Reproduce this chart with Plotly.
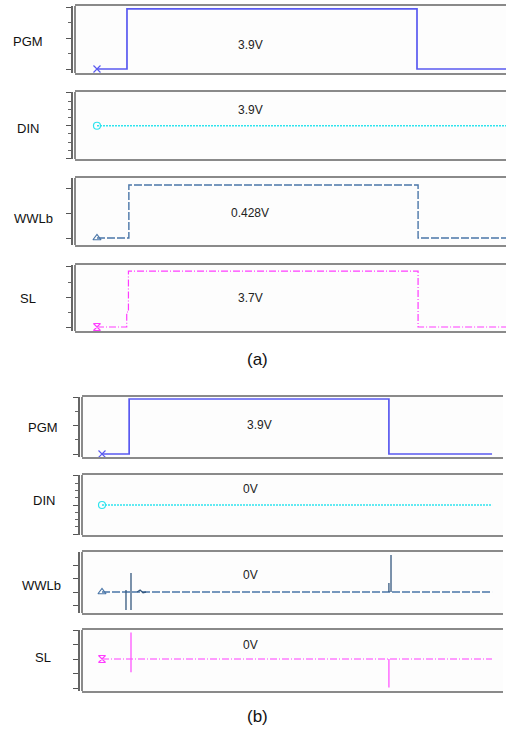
import plotly.graph_objects as go

# ---------------- data ----------------
# (a) program operation, time in arbitrary units (0-100)
t_a_pgm = [5.1, 12.06, 12.06, 79.35, 79.35, 100]
v_a_pgm = [0, 0, 3.9, 3.9, 0, 0]
t_a_din = [5.1, 100]
v_a_din = [3.9, 3.9]
t_a_wwl = [5.1, 12.5, 12.5, 79.6, 79.6, 100]
v_a_wwl = [0, 0, 2.12, 2.12, 0, 0]
t_a_sl = [5.1, 12.0, 12.0, 12.4, 12.4, 79.6, 79.6, 100]
v_a_sl = [0, 0, 1.0, 1.0, 3.73, 3.73, 0, 0]

# (b) inhibit operation
t_b_pgm = [4.75, 11.2, 11.2, 72.9, 72.9, 97.4]
v_b_pgm = [0, 0, 3.9, 3.9, 0, 0]
t_b_din = [4.75, 97.4]
v_b_din = [0, 0]
t_b_wwl = [4.75, 97.4]
v_b_wwl = [0, 0]
t_b_wwl_glitch = [10.45, 10.45, None, 11.64, 11.64, None, 13.1, 13.8, 14.5, 15.2, None,
                  72.9, 72.9, None, 73.4, 73.4]
v_b_wwl_glitch = [0.15, -1.33, None, 1.41, -1.33, None, 0, 0.15, -0.05, 0, None,
                  0, 0.67, None, 0, 2.74]
t_b_sl = [4.75, 97.4]
v_b_sl = [0, 0]
t_b_sl_glitch = [11.64, 11.64, None, 72.9, 72.9]
v_b_sl_glitch = [1.83, -0.92, None, 0, -1.97]

signal_names = ["PGM", "DIN", "WWLb", "SL"]
values_a = ["3.9V", "3.9V", "0.428V", "3.7V"]
values_b = ["3.9V", "0V", "0V", "0V"]
group_labels = ["(a)", "(b)"]

# ---------------- layout helpers ----------------
W, H = 506, 729


def px(x):
    return x / W


def py(y):
    return 1 - y / H


styles = {
    "PGM": dict(color="#5a5af0", dash="solid", symbol="x-thin-open", width=1.7),
    "DIN": dict(color="#2fe4ee", dash="2px,1px", symbol="circle-open", width=1.5),
    "WWLb": dict(color="#4a76a8", dash="8px,2px", symbol="triangle-up-open", width=1.4),
    "SL": dict(color="#ff3cff", dash="7px,2px,1px,2px", symbol="hourglass-open", width=1.2),
}

panels = [
    # group a
    dict(t=t_a_pgm, v=v_a_pgm, name="PGM", box=(75, 506, 6, 73), spine=72,
         yr=[-0.26, 4.09], tick0=0, dtick=2, minor=1, lab=(28, 42), val=values_a[0], vpos=(250, 45)),
    dict(t=t_a_din, v=v_a_din, name="DIN", box=(75, 506, 92, 159), spine=72,
         yr=[3.697, 4.106], tick0=3.7, dtick=0.2, minor=0.05, lab=(28, 128), val=values_a[1], vpos=(250, 110)),
    dict(t=t_a_wwl, v=v_a_wwl, name="WWLb", box=(75, 506, 178, 245), spine=72,
         yr=[-0.28, 2.4], tick0=0, dtick=1, minor=None, lab=(33, 218), val=values_a[2], vpos=(250, 213)),
    dict(t=t_a_sl, v=v_a_sl, name="SL", box=(75, 506, 265, 331), spine=72,
         yr=[-0.267, 4.133], tick0=0, dtick=2, minor=1, lab=(28, 298), val=values_a[3], vpos=(250, 298)),
    # group b
    dict(t=t_b_pgm, v=v_b_pgm, name="PGM", box=(82, 503, 397, 457), spine=79,
         yr=[-0.213, 4.04], tick0=0, dtick=2, minor=1, lab=(43, 427), val=values_b[0], vpos=(259, 425)),
    dict(t=t_b_din, v=v_b_din, name="DIN", box=(82, 503, 475, 535), spine=79,
         yr=[-0.205, 0.205], tick0=-0.2, dtick=0.2, minor=0.05, lab=(44, 500), val=values_b[1], vpos=(250, 489)),
    dict(t=t_b_wwl, v=v_b_wwl, name="WWLb", box=(82, 503, 552, 613), spine=79,
         yr=[-1.556, 2.963], tick0=0, dtick=1, minor=None, lab=(41, 585), val=values_b[2], vpos=(250, 575),
         glitch=(t_b_wwl_glitch, v_b_wwl_glitch, "#35587f")),
    dict(t=t_b_sl, v=v_b_sl, name="SL", box=(82, 503, 630, 691), spine=79,
         yr=[-2.207, 2.0], tick0=0, dtick=1, minor=None, lab=(43, 657), val=values_b[3], vpos=(250, 645),
         glitch=(t_b_sl_glitch, v_b_sl_glitch, "#ff55ff")),
]

fig = go.Figure()
shapes = []
annotations = []
FONT = "Liberation Sans, Arial, sans-serif"

for i, p in enumerate(panels, start=1):
    xa = "x" if i == 1 else f"x{i}"
    ya = "y" if i == 1 else f"y{i}"
    st = styles[p["name"]]
    fig.add_trace(go.Scatter(x=p["t"], y=p["v"], xaxis=xa, yaxis=ya, mode="lines",
                             line=dict(color=st["color"], width=st["width"], dash=st["dash"]),
                             hoverinfo="skip", showlegend=False))
    if "glitch" in p:
        gx, gy, gc = p["glitch"]
        fig.add_trace(go.Scatter(x=gx, y=gy, xaxis=xa, yaxis=ya, mode="lines",
                                 line=dict(color=gc, width=1.3), connectgaps=False,
                                 hoverinfo="skip", showlegend=False))
    fig.add_trace(go.Scatter(x=[p["t"][0]], y=[p["v"][0]], xaxis=xa, yaxis=ya, mode="markers",
                             marker=dict(symbol=st["symbol"], size=7, color=st["color"],
                                         line=dict(color=st["color"], width=1.2)),
                             hoverinfo="skip", showlegend=False))
    left, right, top, bottom = p["box"]
    xkey = "xaxis" if i == 1 else f"xaxis{i}"
    ykey = "yaxis" if i == 1 else f"yaxis{i}"
    fig.update_layout(**{
        xkey: dict(domain=[px(left), px(right)], range=[0, 100], anchor=ya,
                   showgrid=False, zeroline=False, showticklabels=False, ticks="",
                   showline=True, mirror=True, linecolor="#8a8a8a", linewidth=2),
        ykey: dict(domain=[py(bottom), py(top)], range=p["yr"], anchor="free",
                   position=px(p["spine"]), showgrid=False, zeroline=False,
                   showticklabels=False, ticks="outside", ticklen=5, tickwidth=1,
                   tickcolor="#555", tick0=p["tick0"], dtick=p["dtick"],
                   showline=True, linecolor="#666", linewidth=1.5,
                   minor=(dict(dtick=p["minor"], ticks="outside", ticklen=3, tickcolor="#666",
                               tickwidth=1, showgrid=False) if p["minor"] else dict(ticks=""))),
    })
    shapes.append(dict(type="line", xref="paper", yref="paper", x0=px(left), x1=px(left),
                       y0=py(top), y1=py(bottom), line=dict(color="#8a8a8a", width=2)))
    annotations.append(dict(x=px(p["lab"][0]), y=py(p["lab"][1]), xref="paper", yref="paper",
                            text=p["name"], showarrow=False, xanchor="center", yanchor="middle",
                            font=dict(family=FONT, size=13, color="#111")))
    annotations.append(dict(x=px(p["vpos"][0]), y=py(p["vpos"][1]), xref="paper", yref="paper",
                            text=p["val"], showarrow=False, xanchor="center", yanchor="middle",
                            font=dict(family=FONT, size=12, color="#222")))

for lab, (gx, gy) in zip(group_labels, [(257, 359), (257, 716)]):
    annotations.append(dict(x=px(gx), y=py(gy), xref="paper", yref="paper", text=lab,
                            showarrow=False, xanchor="center", yanchor="middle",
                            font=dict(family=FONT, size=17, color="#111")))

fig.update_layout(width=W, height=H, margin=dict(l=0, r=0, t=0, b=0),
                  paper_bgcolor="white", plot_bgcolor="#fdfdfd",
                  shapes=shapes, annotations=annotations, showlegend=False)

fig.write_html("out.html")
